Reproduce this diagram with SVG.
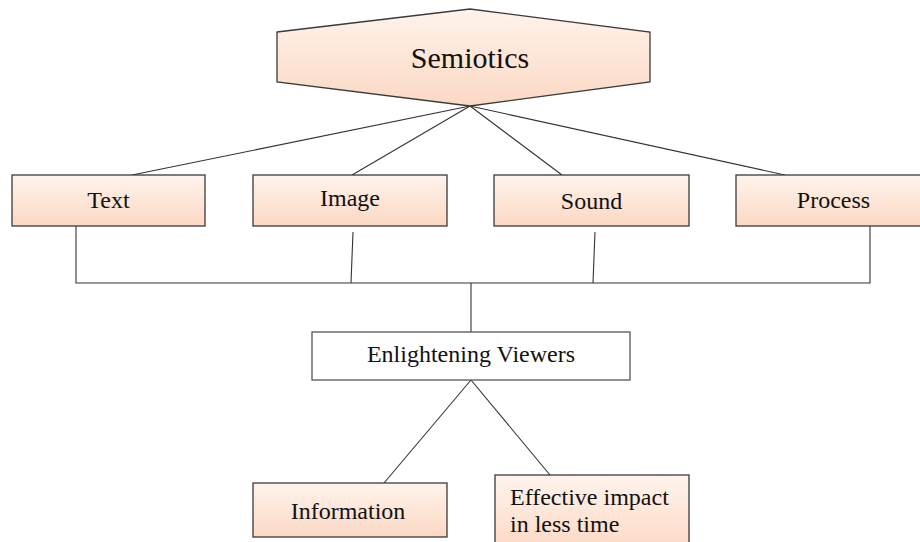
<svg xmlns="http://www.w3.org/2000/svg" width="920" height="542" viewBox="0 0 920 542">
<defs>
<linearGradient id="peach" x1="0" y1="0" x2="0" y2="1">
<stop offset="0" stop-color="#fff3ec"/>
<stop offset="1" stop-color="#fbd8c3"/>
</linearGradient>
</defs>
<style>
.box{fill:url(#peach);stroke:#3a3a3a;stroke-width:1.3}
.plain{fill:#ffffff;stroke:#555555;stroke-width:1.3}
.conn line,.conn polyline{stroke:#333333;stroke-width:1.1;fill:none}
text{font-family:'Liberation Serif','Times New Roman',Times,serif;font-size:24px;fill:#111111}
.mid{text-anchor:middle}
.big{font-size:30px}
</style>
<rect width="920" height="542" fill="#ffffff"/>
<g class="conn" id="connectors">
<line x1="470" y1="106" x2="132" y2="175"/>
<line x1="470" y1="106" x2="352" y2="175"/>
<line x1="470" y1="106" x2="562" y2="175"/>
<line x1="470" y1="106" x2="785" y2="175"/>
<polyline points="76,226 76,283 870,283 870,226"/>
<line x1="353" y1="232" x2="351" y2="283"/>
<line x1="595" y1="232" x2="593" y2="283"/>
<line x1="471" y1="283" x2="471" y2="332"/>
<line x1="471" y1="380" x2="384" y2="483"/>
<line x1="471" y1="380" x2="550" y2="475"/>
</g>
<g id="node-semiotics">
<polygon class="box" points="277,32 470,9 650,32 650,82 470,106 277,82"/>
<text class="mid big" x="470" y="68">Semiotics</text>
</g>
<g id="node-text">
<rect class="box" x="12" y="175" width="193" height="51"/>
<text class="mid" x="108.5" y="208">Text</text>
</g>
<g id="node-image">
<rect class="box" x="253" y="175" width="194" height="51"/>
<text class="mid" x="350" y="206">Image</text>
</g>
<g id="node-sound">
<rect class="box" x="494" y="175" width="195" height="51"/>
<text class="mid" x="591.5" y="209">Sound</text>
</g>
<g id="node-process">
<rect class="box" x="736" y="175" width="195" height="51"/>
<text class="mid" x="833.5" y="208">Process</text>
</g>
<g id="node-enlightening">
<rect class="plain" x="312" y="332" width="318" height="48"/>
<text class="mid" x="471" y="362">Enlightening Viewers</text>
</g>
<g id="node-information">
<rect class="box" x="253" y="483" width="194" height="54"/>
<text class="mid" x="348" y="519">Information</text>
</g>
<g id="node-effective">
<rect class="box" x="495" y="475" width="194" height="80"/>
<text x="510" y="505">Effective impact</text>
<text x="510" y="532">in less time</text>
</g>
</svg>
